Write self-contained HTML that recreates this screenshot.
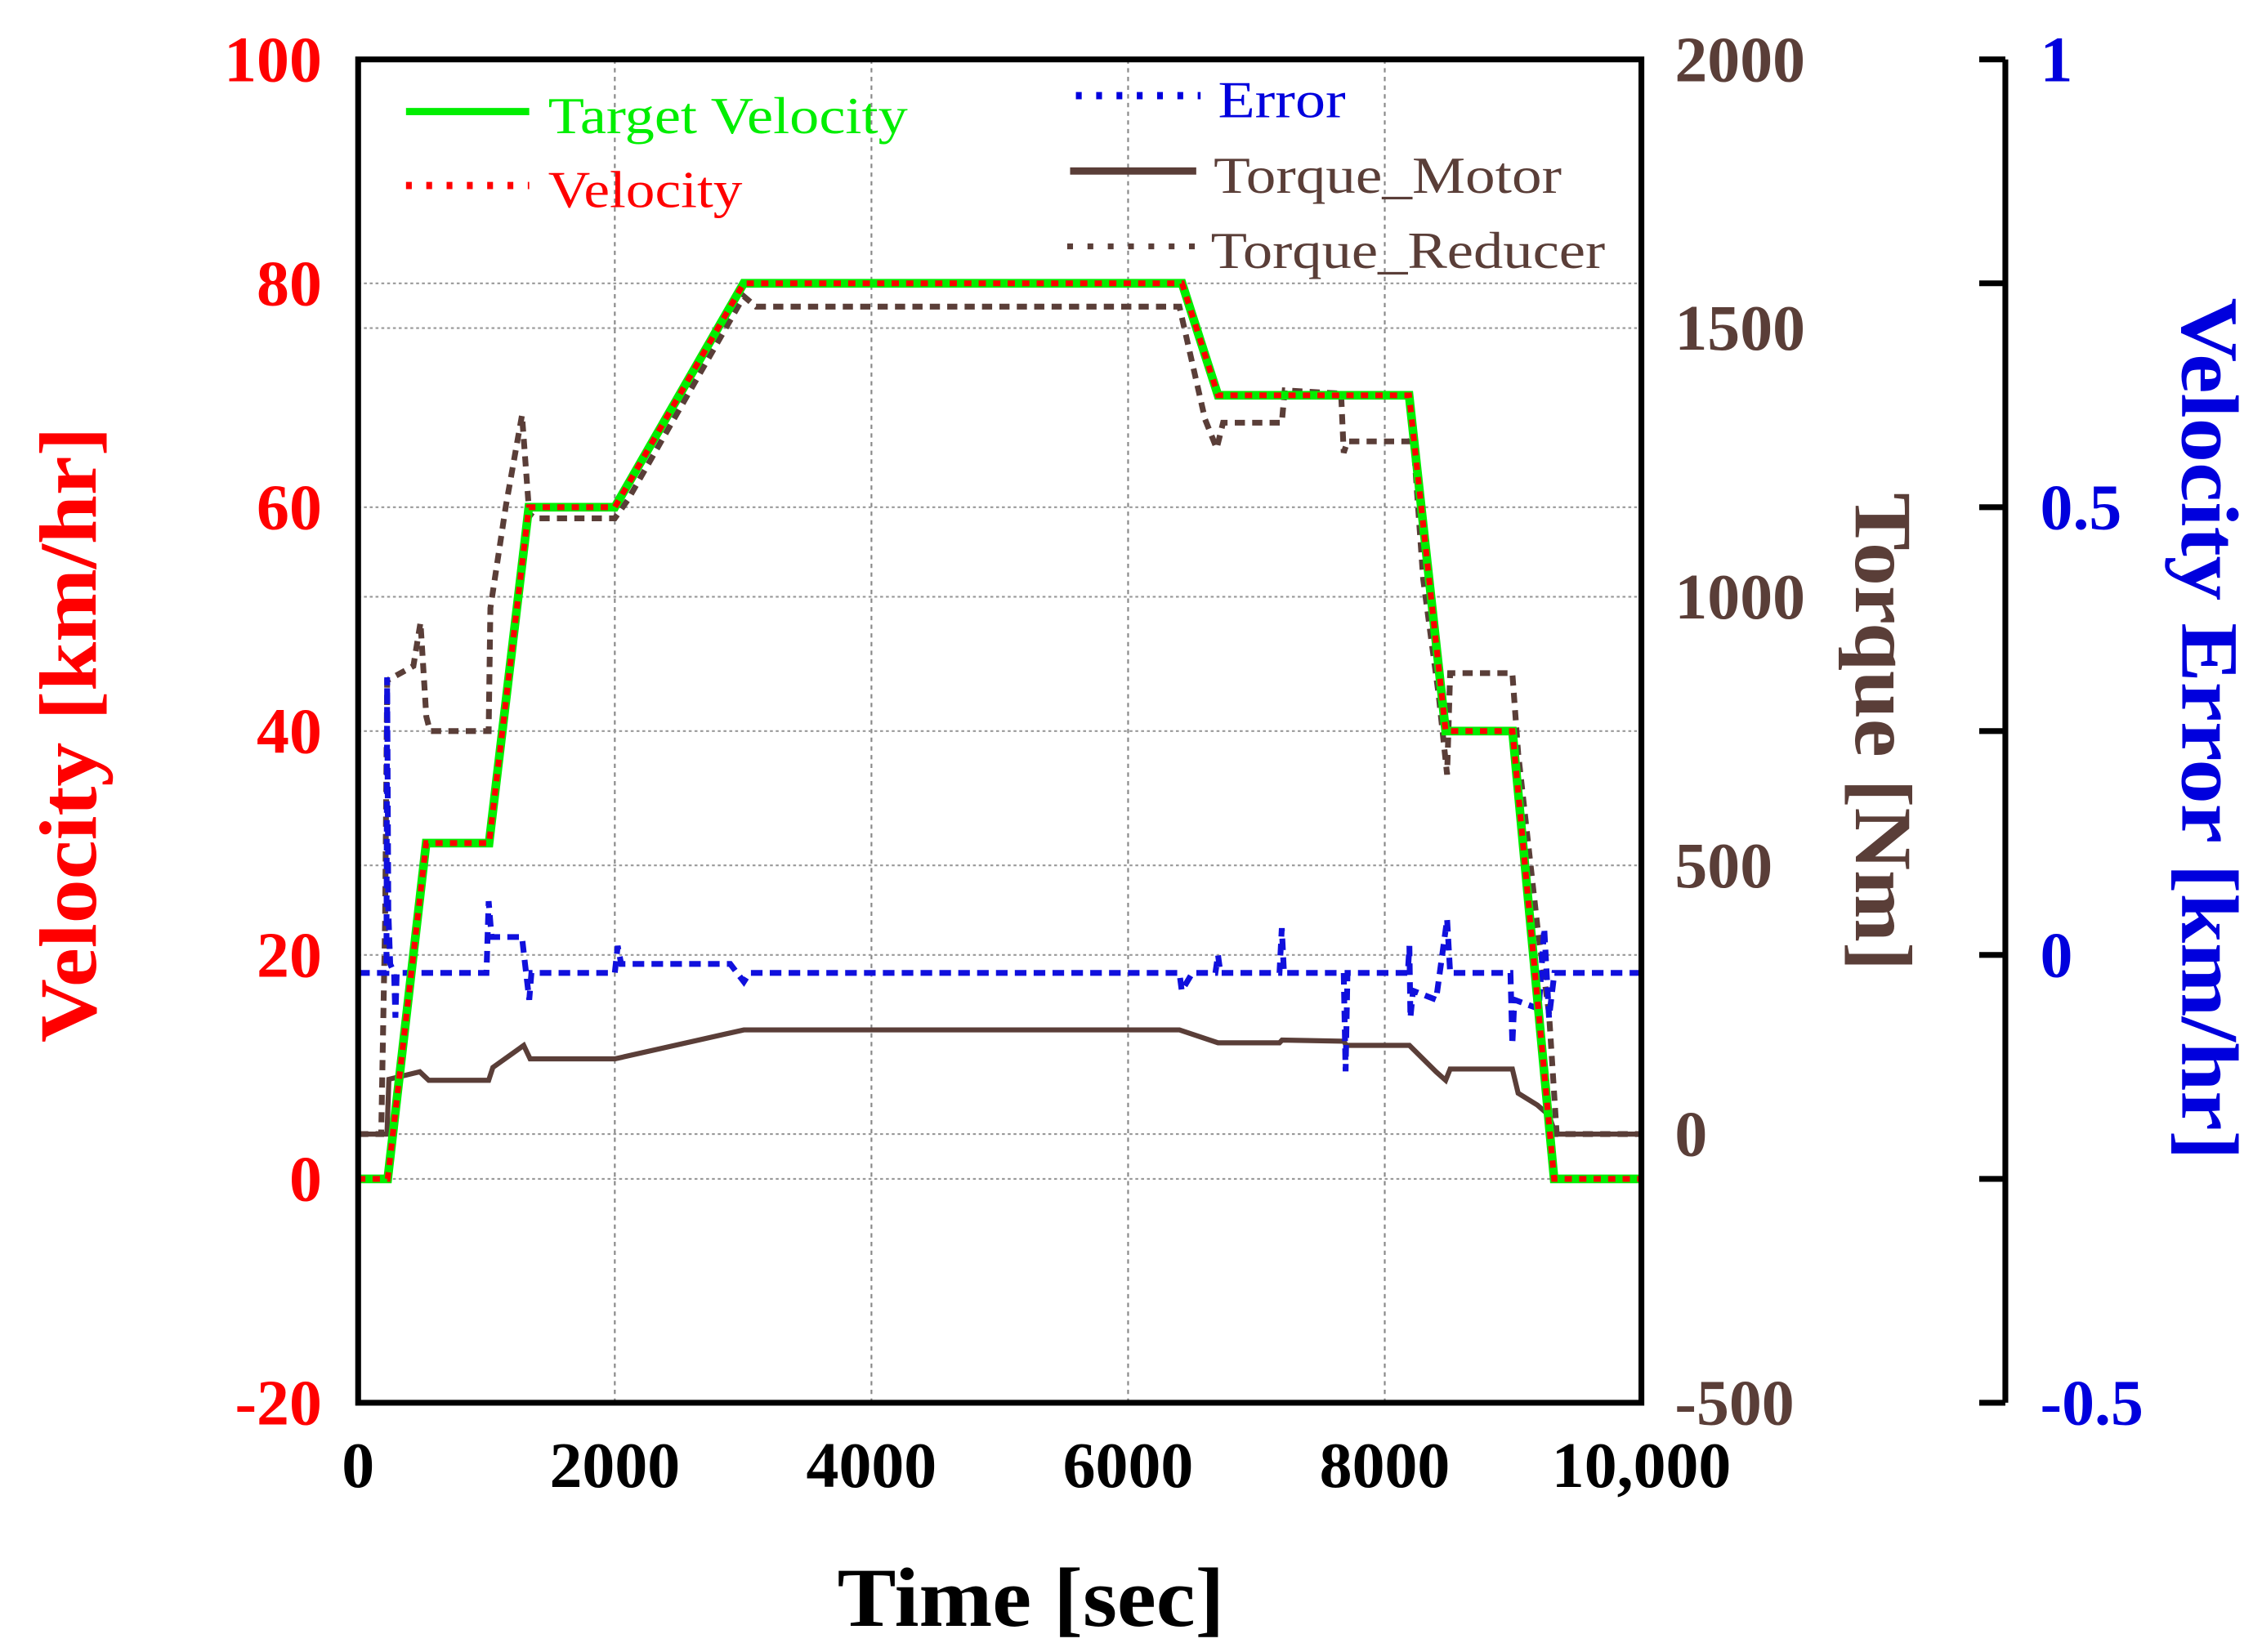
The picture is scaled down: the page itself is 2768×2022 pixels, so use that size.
<!DOCTYPE html>
<html><head><meta charset="utf-8"><style>
html,body{margin:0;padding:0;background:#fff;}
svg{display:block;}
text{font-family:"Liberation Serif","Times New Roman",serif;}
</style></head><body>
<svg id="chart" width="2768" height="2022" viewBox="0 0 1560 1140" preserveAspectRatio="none" xmlns="http://www.w3.org/2000/svg">
<g id="grid"></g>
<g id="series"></g>
<g id="axes"></g>
<g id="legend">
  <line x1="280" y1="77" x2="365" y2="77" stroke="#00ee00" stroke-width="5"/>
  <text x="378" y="92" font-size="36" fill="#00ee00" textLength="248" lengthAdjust="spacingAndGlyphs">Target Velocity</text>
  <line x1="280" y1="128" x2="365" y2="128" stroke="#ff0000" stroke-width="5" stroke-dasharray="4,10"/>
  <text x="378" y="143" font-size="36" fill="#ff0000" textLength="134" lengthAdjust="spacingAndGlyphs">Velocity</text>
  <line x1="742" y1="66" x2="828" y2="66" stroke="#0000dd" stroke-width="5" stroke-dasharray="4,10"/>
  <text x="840" y="81" font-size="36" fill="#0000dd" textLength="88" lengthAdjust="spacingAndGlyphs">Error</text>
  <line x1="738" y1="118" x2="825" y2="118" stroke="#5a3e38" stroke-width="5"/>
  <text x="837" y="133" font-size="36" fill="#5a3e38" textLength="240" lengthAdjust="spacingAndGlyphs">Torque_Motor</text>
  <line x1="736" y1="170" x2="825" y2="170" stroke="#5a3e38" stroke-width="4" stroke-dasharray="4,10"/>
  <text x="835" y="185" font-size="36" fill="#5a3e38" textLength="272" lengthAdjust="spacingAndGlyphs">Torque_Reducer</text>
</g>
</svg>
<script>
// ---- data ----
var targetTimes = [0,230,530,1020,1330,2000,3005,6420,6700,8190,8475,8995,9320,10000];
var targetVel   = [0,0,30,30,60,60,80,80,70,70,40,40,0,0];
var motorTimes  = [0,225,240,480,550,1017,1050,1290,1340,2000,3006,6400,6700,7180,7200,7680,7700,8192,8400,8475,8510,8994,9040,9190,9280,9330,10000];
var motorTorque = [0,0,102,116,100,100,124,165,140,140,194,194,170,170,175,173,165,165,116,100,121,121,76,54,35,0,0];
var reducerTimes  = [0,180,210,226,430,486,531,560,1017,1030,1150,1277,1333,1380,2000,2100,3006,3100,6400,6600,6690,6740,7198,7220,7660,7680,7710,8192,8220,8300,8420,8486,8510,8994,9040,9190,9280,9340,10000];
var reducerTorque = [0,0,400,844,871,952,777,750,750,979,1168,1338,1154,1146,1146,1180,1559,1540,1540,1330,1276,1324,1324,1384,1378,1268,1289,1289,1300,1033,817,669,858,858,709,386,224,0,0];
var errTimes = [0,220,226,235,250,280,290,300,1000,1017,1040,1110,1277,1300,1333,1350,2000,2023,2050,2900,3006,3050,6400,6418,6500,6680,6700,6720,7180,7198,7215,7680,7695,7710,8180,8192,8200,8220,8400,8486,8510,8980,8994,9010,9200,9243,9280,9322,10000];
var errVals  = [-0.02,-0.02,0.31,0.05,-0.01,-0.02,-0.07,-0.02,-0.02,0.06,0.02,0.02,0.02,-0.01,-0.05,-0.02,-0.02,0.01,-0.01,-0.01,-0.03,-0.02,-0.02,-0.04,-0.02,-0.02,0.0,-0.02,-0.02,0.03,-0.02,-0.02,-0.13,-0.02,-0.02,0.01,-0.07,-0.04,-0.05,0.04,-0.02,-0.02,-0.10,-0.05,-0.06,0.03,-0.07,-0.02,-0.02];
var timeTicks = [0,2000,4000,6000,8000,10000];
var timeTickLabels = ["0","2000","4000","6000","8000","10,000"];
var velTicks = [-20,0,20,40,60,80,100];
var torqueTicks = [-500,0,500,1000,1500,2000];
var errTicks = [-0.5,-0.25,0,0.25,0.5,0.75,1];
var errTickLabels = {"-0.5":"-0.5","0":"0","0.5":"0.5","1":"1"};

// ---- scales ----
var L=247,R=1132,T=41,B=968;
function xS(t){return L+(t-0)/10000*(R-L);}
function yV(v){return B-(v+20)/120*(B-T);}
function yT(q){return B-(q+500)/2500*(B-T);}
function yE(e){return B-(e+0.5)/1.5*(B-T);}

var NS="http://www.w3.org/2000/svg";
function mk(tag,attrs,parent){var el=document.createElementNS(NS,tag);for(var k in attrs)el.setAttribute(k,attrs[k]);parent.appendChild(el);return el;}
var grid=document.getElementById('grid'),series=document.getElementById('series'),axes=document.getElementById('axes');

// grid
timeTicks.forEach(function(t){if(t===0||t===10000)return;
 var g=mk('line',{x1:xS(t),x2:xS(t),y1:T,y2:B,stroke:'#888','stroke-width':1.2,'stroke-dasharray':'3,3'},grid);
 
 });
velTicks.forEach(function(v){if(v===-20||v===100)return;
 var g=mk('line',{x1:L,x2:R,y1:yV(v),y2:yV(v),stroke:'#999','stroke-width':1.2,'stroke-dasharray':'2,2'},grid);
 
 });
torqueTicks.forEach(function(q){if(q===-500||q===2000)return;
 var g=mk('line',{x1:L,x2:R,y1:yT(q),y2:yT(q),stroke:'#999','stroke-width':1.2,'stroke-dasharray':'2,2'},grid);
 
 });

function pathOf(ts,vs,yf){return ts.map(function(t,i){return (i?'L':'M')+xS(t).toFixed(1)+','+yf(vs[i]).toFixed(1);}).join(' ');}

var p;
p=mk('path',{d:pathOf(reducerTimes,reducerTorque,yT),fill:'none',stroke:'#5a3e38','stroke-width':4,'stroke-dasharray':'7,5'},series);


p=mk('path',{d:pathOf(motorTimes,motorTorque,yT),fill:'none',stroke:'#5a3e38','stroke-width':3.5},series);


p=mk('path',{d:pathOf(errTimes,errVals,yE),fill:'none',stroke:'#1010dd','stroke-width':4,'stroke-dasharray':'8,5'},series);


p=mk('path',{d:pathOf(targetTimes,targetVel,yV),fill:'none',stroke:'#00ee00','stroke-width':6},series);


p=mk('path',{d:pathOf(targetTimes,targetVel,yV),fill:'none',stroke:'#ff0000','stroke-width':4,'stroke-dasharray':'5,5'},series);



// frame
var f=mk('rect',{x:L,y:T,width:R-L,height:B-T,fill:'none',stroke:'#000','stroke-width':4},axes);


var ea=mk('line',{x1:1383,x2:1383,y1:T,y2:B,stroke:'#000','stroke-width':4},axes);



function txt(s,attrs,name){var t=mk('text',attrs,axes);t.textContent=s;
 
 return t;}

timeTicks.forEach(function(t,i){txt(timeTickLabels[i],{x:xS(t),y:1026,'font-size':45,'font-weight':'bold','text-anchor':'middle',fill:'#000'},'x-tick-label');});
velTicks.forEach(function(v){txt(String(v),{x:222,y:yV(v)+15,'font-size':45,'font-weight':'bold','text-anchor':'end',fill:'#ff0000'},'velocity-tick-label');});
torqueTicks.forEach(function(q){txt(String(q),{x:1155,y:yT(q)+15,'font-size':45,'font-weight':'bold','text-anchor':'start',fill:'#5a3e38'},'torque-tick-label');});
errTicks.forEach(function(e){
 var tk=mk('line',{x1:1365,x2:1383,y1:yE(e),y2:yE(e),stroke:'#000','stroke-width':4},axes);
 
 
 var lab=errTickLabels[String(e)];
 if(lab!==undefined)txt(lab,{x:1407,y:yE(e)+15,'font-size':45,'font-weight':'bold','text-anchor':'start',fill:'#0000dd'},'error-tick-label');
});

txt('Time [sec]',{x:711,y:1122,'font-size':58,'font-weight':'bold','text-anchor':'middle',fill:'#000',textLength:267,lengthAdjust:'spacingAndGlyphs'},'x-axis-title');
txt('Velocity [km/hr]',{x:0,y:0,'font-size':56,'font-weight':'bold','text-anchor':'middle',fill:'#ff0000',textLength:425,lengthAdjust:'spacingAndGlyphs',transform:'translate(66,507) rotate(-90)'},'velocity-axis-title');
txt('Torque [Nm]',{x:0,y:0,'font-size':56,'font-weight':'bold','text-anchor':'middle',fill:'#5a3e38',textLength:330,lengthAdjust:'spacingAndGlyphs',transform:'translate(1280,505) rotate(90)'},'torque-axis-title');
txt('Velocity Error [km/hr]',{x:0,y:0,'font-size':56,'font-weight':'bold','text-anchor':'middle',fill:'#0000dd',textLength:595,lengthAdjust:'spacingAndGlyphs',transform:'translate(1505,503) rotate(90)'},'velocity-error-axis-title');
</script>
</body></html>
